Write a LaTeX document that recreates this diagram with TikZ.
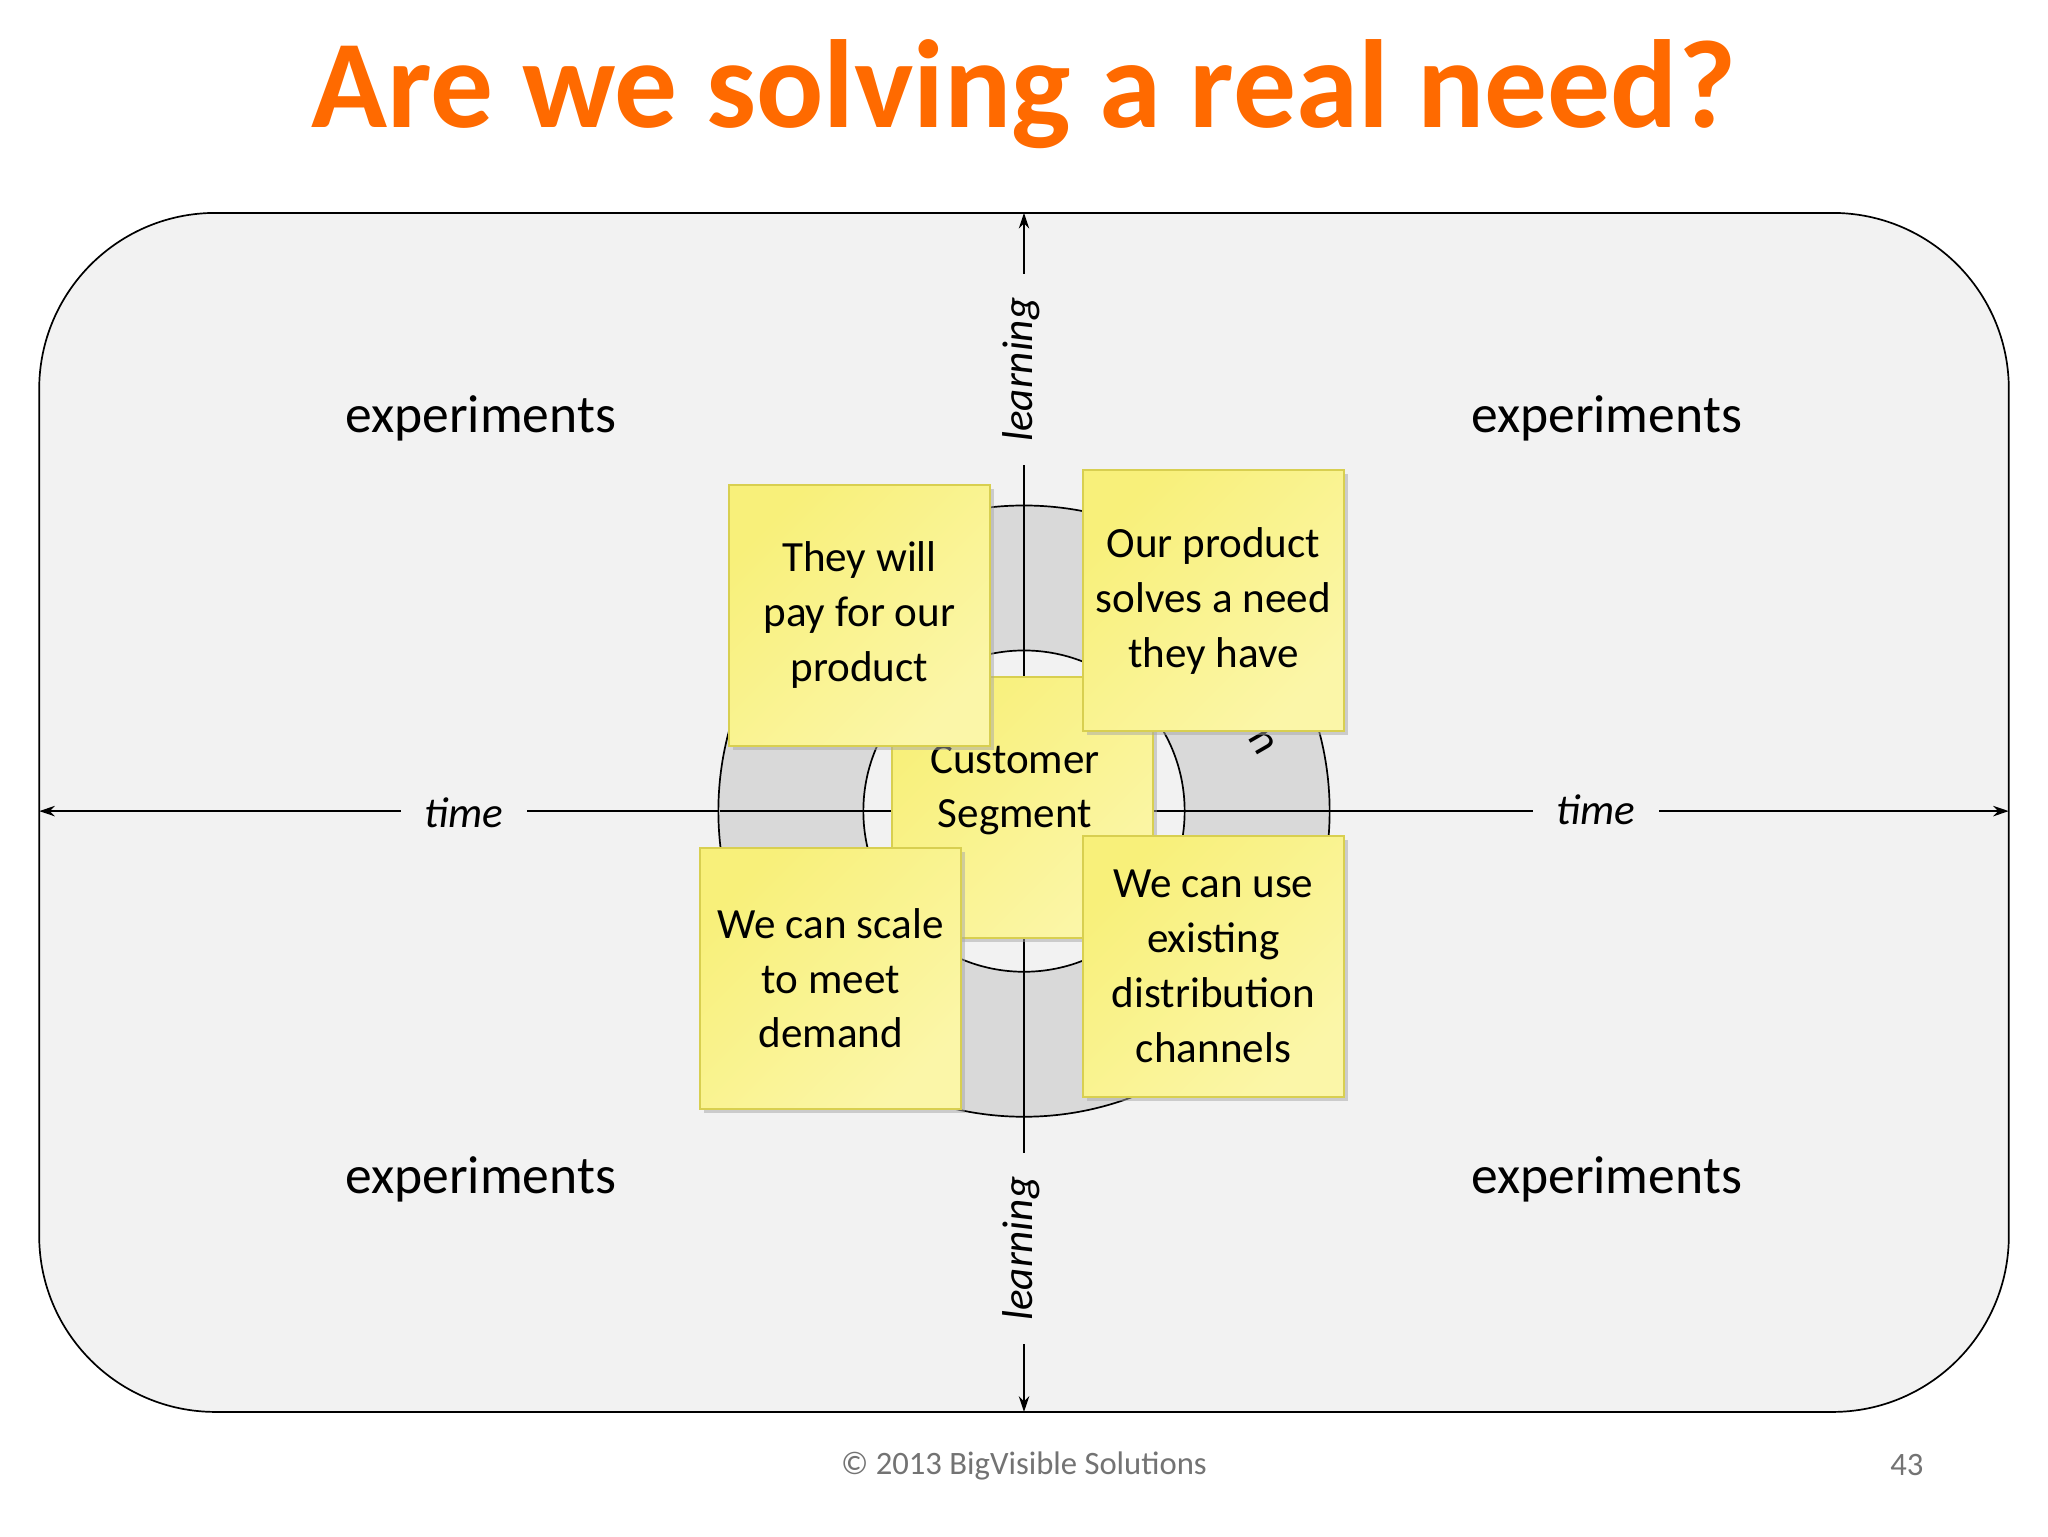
\documentclass[tikz,border=0pt]{standalone}
\usepackage{fontspec}
\setmainfont{Carlito}
\usetikzlibrary{arrows.meta,shadows}
\definecolor{ttl}{HTML}{FF6A00}
\definecolor{panel}{HTML}{F2F2F2}
\definecolor{ring}{HTML}{D9D9D9}
\definecolor{stickA}{HTML}{F8F07A}
\definecolor{stickB}{HTML}{FBF6A8}
\definecolor{stickE}{HTML}{D8CF50}
\begin{document}
\begin{tikzpicture}[x=1pt,y=-1pt,
  sticky/.style={minimum width=200pt,minimum height=200pt,inner sep=0pt,draw=stickE,line width=1.5pt,
    top color=stickA,bottom color=stickB,shading angle=45,
    drop shadow={shadow xshift=3pt,shadow yshift=-3pt,fill=black!35},
    align=center,font=\fontsize{33}{42}\selectfont},
  lbl/.style={font=\fontsize{41}{44}\selectfont},
  axl/.style={font=\itshape\fontsize{33}{36}\selectfont,fill=panel,inner xsep=18pt,inner ysep=8pt},
  ax/.style={line width=1.3pt,-{Stealth[length=12pt,width=8pt]}}]
\useasboundingbox[fill=white] (0,0) rectangle (1568,1176);
\node (title) at (784,72) {\textcolor{ttl}{\bfseries\fontsize{96}{100}\selectfont Are we solving a real need?}};
\draw[fill=panel,line width=1.3pt,rounded corners=135pt] (30,163) rectangle (1538,1081);
\coordinate (c) at (784,621);
\coordinate (L) at (30,621); \coordinate (R) at (1538,621);
\coordinate (T) at (784,163); \coordinate (B) at (784,1081);
\draw[ax] (c) -- (L);
\draw[ax] (c) -- (R);
\draw[ax] (c) -- (T);
\draw[ax] (c) -- (B);
\fill[ring,even odd rule,draw=black,line width=1.3pt] (c) circle[radius=234] (c) circle[radius=123];
\draw[line width=1.3pt] (784,387) -- (784,498);
\draw[line width=1.3pt] (784,744) -- (784,855);
\draw[line width=1.3pt] (551,621) -- (661,621);
\draw[line width=1.3pt] (907,621) -- (1018,621);
\node[rotate=-60,font=\fontsize{33}{36}\selectfont] (ringtxt) at (966,568) {n};
\node[axl] (t1) at (355,622) {time};
\node[axl] (t2) at (1222,620) {time};
\node[axl,rotate=90] (l1) at (782,283) {learning};
\node[axl,rotate=90] (l2) at (782,956) {learning};
\node[lbl] (e1) at (368,320) {experiments};
\node[lbl] (e2) at (1230,320) {experiments};
\node[lbl] (e3) at (368,903) {experiments};
\node[lbl] (e4) at (1230,903) {experiments};
\node[sticky] (cs) at (783,618) {};
\node[align=center,font=\fontsize{33}{42}\selectfont] (cst) at (777,605) {Customer\\Segment};
\node[sticky] (s1) at (658,471) {They will\\pay for our\\product};
\node[sticky] (s2) at (929,460) {Our product\\solves a need\\they have};
\node[sticky] (s3) at (636,749) {We can scale\\to meet\\demand};
\node[sticky] (s4) at (929,740) {We can use\\existing\\distribution\\channels};
\node[text=black!55,font=\fontsize{25}{28}\selectfont] (foot) at (784,1122) {© 2013 BigVisible Solutions};
\node[text=black!55,font=\fontsize{25}{28}\selectfont] (pg) at (1460,1122) {43};
\end{tikzpicture}
\end{document}
